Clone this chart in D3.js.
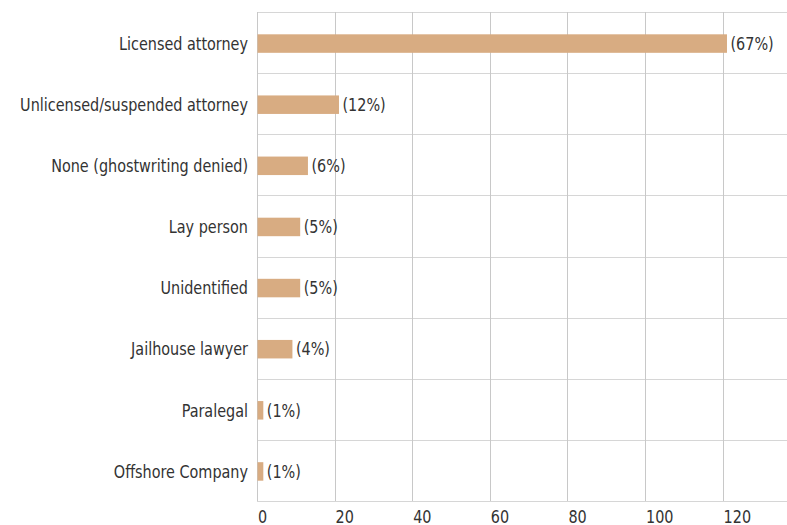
<!DOCTYPE html>
<html lang="en">
<head>
<meta charset="utf-8">
<script src="https://d3js.org/d3.v7.min.js"></script>
<style>
  body { margin: 0; background: #fff; }
  svg text { font-family: "DejaVu Sans Condensed", "DejaVu Sans", sans-serif; fill: #333; font-size: 18px; }
</style>
</head>
<body>
<svg id="chart" width="787" height="525"></svg>
<script>
const categories = ["Licensed attorney", "Unlicensed/suspended attorney", "None (ghostwriting denied)",
  "Lay person", "Unidentified", "Jailhouse lawyer", "Paralegal", "Offshore Company"];
const counts = [121, 21, 13, 11, 11, 9, 1.5, 1.5];
const shareLabels = ["(67%)", "(12%)", "(6%)", "(5%)", "(5%)", "(4%)", "(1%)", "(1%)"];
const xTicks = [0, 20, 40, 60, 80, 100, 120, 140];

const svg = d3.select("#chart");
const margin = { top: 12, left: 257, bottom: 24 };
const width = 787, height = 525;
const squeeze = 0.89; // narrow the fallback font toward the condensed original

const x = d3.scaleLinear().domain([0, 20]).range([margin.left, margin.left + 77.6]);
const y = d3.scaleBand().domain(categories).range([margin.top, height - margin.bottom]);
const mid = c => y(c) + y.bandwidth() / 2 + 1;

// horizontal separators between rows
const bounds = categories.map(c => y(c)).concat([y.range()[1]]);
svg.append("g").selectAll("line").data(bounds).enter().append("line")
  .attr("x1", margin.left).attr("x2", width)
  .attr("y1", d => Math.round(d) + 0.5).attr("y2", d => Math.round(d) + 0.5)
  .attr("stroke", "#d6d6d6").attr("stroke-width", 1);

// vertical gridlines
svg.append("g").selectAll("line").data(xTicks).enter().append("line")
  .attr("x1", d => Math.round(x(d)) + 0.5).attr("x2", d => Math.round(x(d)) + 0.5)
  .attr("y1", margin.top).attr("y2", y.range()[1])
  .attr("stroke", "#c8c8c8").attr("stroke-width", 1);

// tick labels
svg.append("g").selectAll("text").data(xTicks).enter().append("text")
  .attr("transform", d => `translate(${x(d) + 1},523) scale(${squeeze},1)`)
  .text(d => d);

// bars
const barH = 18.5;
svg.append("g").selectAll("rect").data(counts).enter().append("rect")
  .attr("x", x(0) + 0.5)
  .attr("y", (d, i) => mid(categories[i]) - barH / 2)
  .attr("width", d => x(d) - x(0))
  .attr("height", barH)
  .attr("fill", "#d8ac82");

// value labels
svg.append("g").selectAll("text").data(counts).enter().append("text")
  .attr("transform", (d, i) => `translate(${x(d) + 4},${mid(categories[i])}) scale(${squeeze},1)`)
  .attr("dy", "0.35em")
  .text((d, i) => shareLabels[i]);

// category labels
svg.append("g").selectAll("text").data(categories).enter().append("text")
  .attr("transform", d => `translate(${margin.left - 9},${mid(d)}) scale(${squeeze},1)`)
  .attr("dy", "0.35em")
  .attr("text-anchor", "end")
  .text(d => d);
</script>
</body>
</html>
